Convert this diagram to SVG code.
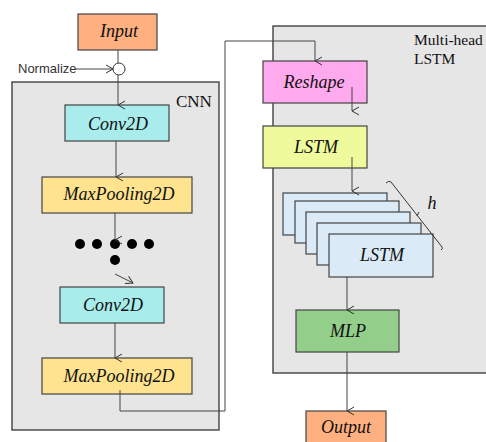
<svg xmlns="http://www.w3.org/2000/svg" width="486" height="442" viewBox="0 0 486 442">
<defs>
<marker id="ah" markerWidth="10" markerHeight="10" refX="5" refY="8" orient="auto" markerUnits="userSpaceOnUse" viewBox="0 0 10 10">
<path d="M1,1 L5,8 L9,1" fill="none" stroke="#333" stroke-width="1"/>
</marker>
<marker id="ah2" markerWidth="10" markerHeight="10" refX="8" refY="5" orient="auto" markerUnits="userSpaceOnUse" viewBox="0 0 10 10">
<path d="M1,1 L8,5 L1,9" fill="none" stroke="#333" stroke-width="1"/>
</marker>
</defs>
<style>
.panel{fill:#e6e6e6;stroke:#333;stroke-width:1.3}
.box{stroke:#444;stroke-width:1.2}
.lbl{font-family:"Liberation Serif",serif;font-style:italic;font-size:18px;fill:#111;text-anchor:middle}
.plain{font-family:"Liberation Serif",serif;font-size:17px;fill:#111}
.small{font-size:15.5px}
.conn{fill:none;stroke:#444;stroke-width:1}
</style>
<rect class="panel" x="12" y="82" width="207" height="348"/>
<rect class="panel" x="273" y="26" width="216" height="347"/>
<text class="plain" x="176" y="107">CNN</text>
<text class="plain small" x="414" y="45">Multi-head</text>
<text class="plain small" x="414" y="64">LSTM</text>

<g id="input"><rect class="box" x="78" y="14" width="79" height="36" fill="#ffb080"/><text class="lbl" x="119" y="37">Input</text></g>
<g id="normalize"><text x="18" y="73" font-family="Liberation Sans,sans-serif" font-size="13" fill="#333">Normalize</text><circle cx="119" cy="69" r="6" fill="none" stroke="#333" stroke-width="1"/></g>
<g id="conv1"><rect class="box" x="65" y="105" width="104" height="36" fill="#a8ecec"/><text class="lbl" x="118" y="130">Conv2D</text></g>
<g id="pool1"><rect class="box" x="42" y="177" width="150" height="36" fill="#ffe38f"/><text class="lbl" x="119" y="200">MaxPooling2D</text></g>
<g id="dots" fill="#000"><circle cx="80" cy="244" r="5"/><circle cx="97" cy="244" r="5"/><circle cx="115" cy="244" r="5"/><circle cx="132" cy="244" r="5"/><circle cx="149" cy="244" r="5"/><circle cx="115" cy="260" r="5"/></g>
<g id="conv2"><rect class="box" x="60" y="287" width="104" height="36" fill="#a8ecec"/><text class="lbl" x="113" y="311">Conv2D</text></g>
<g id="pool2"><rect class="box" x="42" y="358" width="150" height="36" fill="#ffe38f"/><text class="lbl" x="119" y="382">MaxPooling2D</text></g>

<g id="reshape"><rect class="box" x="263" y="61" width="104" height="42" fill="#ffaaee"/><text class="lbl" x="314" y="88">Reshape</text></g>
<g id="lstm1"><rect class="box" x="263" y="126" width="104" height="42" fill="#eefa9c"/><text class="lbl" x="316" y="153">LSTM</text></g>
<g id="lstmstack">
<rect class="box" x="283" y="193" width="104" height="42" fill="#daeaf7"/>
<rect class="box" x="295" y="201" width="104" height="42" fill="#daeaf7"/>
<rect class="box" x="306" y="212" width="104" height="42" fill="#daeaf7"/>
<rect class="box" x="317" y="223" width="104" height="42" fill="#daeaf7"/>
<rect class="box" x="329" y="234" width="104" height="43" fill="#daeaf7"/>
<text class="lbl" x="382" y="261">LSTM</text>
<path d="M386,183 Q389,180 391,182 L442,247 Q443,249 441,250 M419,212 L417,216" fill="none" stroke="#333" stroke-width="1"/>
<text class="lbl" x="432" y="209">h</text>
</g>
<g id="mlp"><rect class="box" x="296" y="310" width="103" height="42" fill="#93cf8a"/><text class="lbl" x="348" y="337">MLP</text></g>
<g id="output"><rect class="box" x="306" y="411" width="80" height="36" fill="#ffb080"/><text class="lbl" x="346" y="433">Output</text></g>

<g id="connectors">
<line class="conn" x1="118" y1="50" x2="118" y2="63"/>
<line class="conn" x1="76" y1="69" x2="113" y2="69" marker-end="url(#ah2)"/>
<line class="conn" x1="118" y1="75" x2="118" y2="105" marker-end="url(#ah)"/>
<line class="conn" x1="116" y1="141" x2="116" y2="177" marker-end="url(#ah)"/>
<line class="conn" x1="115" y1="213" x2="115" y2="240" marker-end="url(#ah)"/>
<line class="conn" x1="115" y1="274" x2="133" y2="283" marker-end="url(#ah2)"/>
<line class="conn" x1="115" y1="323" x2="115" y2="358" marker-end="url(#ah)"/>
<path class="conn" d="M120,390 L120,411 L225,411 L225,41 L315,41 L315,61" marker-end="url(#ah)"/>
<line class="conn" x1="352" y1="87" x2="352" y2="111" marker-end="url(#ah)"/>
<line class="conn" x1="352" y1="157" x2="352" y2="191" marker-end="url(#ah)"/>
<line class="conn" x1="347" y1="277" x2="347" y2="310" marker-end="url(#ah)"/>
<line class="conn" x1="347" y1="352" x2="347" y2="411" marker-end="url(#ah)"/>
</g>
</svg>
